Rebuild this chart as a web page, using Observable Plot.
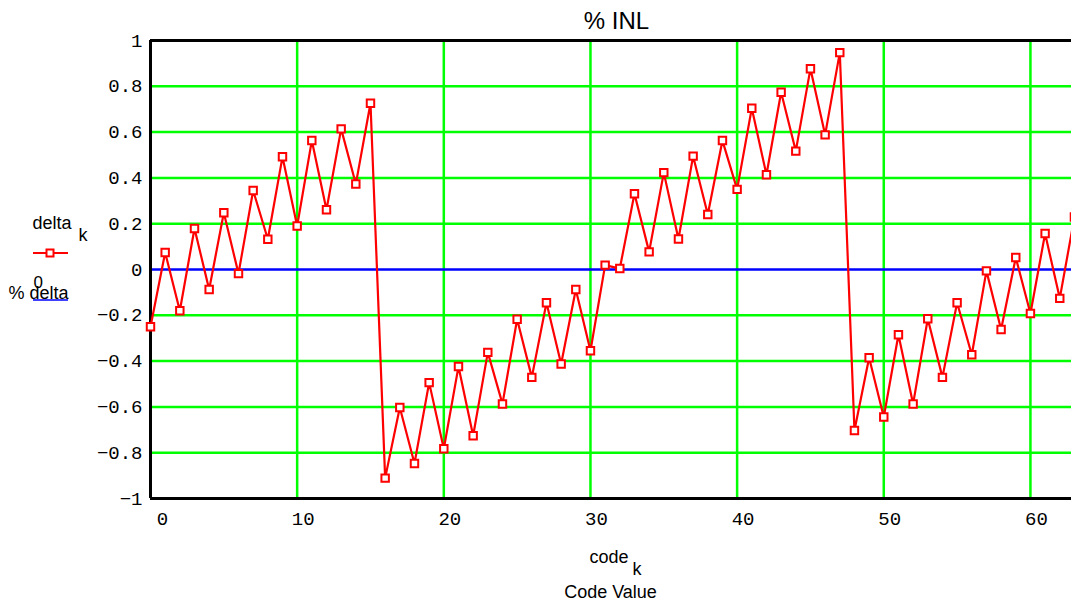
<!DOCTYPE html>
<html>
<head>
<meta charset="utf-8">
<script src="https://cdn.jsdelivr.net/npm/d3@7"></script>
<script src="https://cdn.jsdelivr.net/npm/@observablehq/plot@0.6"></script>
<style>
  html, body { margin: 0; padding: 0; background: white; overflow: hidden; }
  #chart { width: 1071px; height: 606px; }
</style>
</head>
<body>
<div id="chart"></div>
<script>
// code index k
const codes = [0,1,2,3,4,5,6,7,8,9,10,11,12,13,14,15,16,17,18,19,20,21,22,23,24,25,26,27,28,29,30,31,
               32,33,34,35,36,37,38,39,40,41,42,43,44,45,46,47,48,49,50,51,52,53,54,55,56,57,58,59,60,61,62,63];
// % INL (delta_k)
const delta = [-0.25, 0.074, -0.18, 0.179, -0.087, 0.248, -0.018, 0.345, 0.132, 0.492, 0.19, 0.563, 0.261, 0.614, 0.373, 0.726,
               -0.911, -0.603, -0.847, -0.494, -0.783, -0.424, -0.726, -0.362, -0.587, -0.217, -0.471, -0.145, -0.413, -0.087, -0.355, 0.019,
               0.004, 0.331, 0.077, 0.423, 0.133, 0.495, 0.24, 0.563, 0.35, 0.704, 0.414, 0.774, 0.517, 0.877, 0.588, 0.947,
               -0.703, -0.385, -0.644, -0.285, -0.587, -0.215, -0.471, -0.145, -0.372, -0.006, -0.262, 0.052, -0.192, 0.157, -0.126, 0.229];
const xTicks = [0, 10, 20, 30, 40, 50, 60];
const yTicks = [-1, -0.8, -0.6, -0.4, -0.2, 0, 0.2, 0.4, 0.6, 0.8, 1];
const xGrid = [10, 20, 30, 40, 50, 60];
const yGrid = [-0.8, -0.6, -0.4, -0.2, 0.2, 0.4, 0.6, 0.8];
const zeroTrace = [0];
const titleText = ["% INL"];
const xLabel = ["code"], xSub = ["k"], xLabel2 = ["Code Value"];
const legend1 = ["delta"], legend1Sub = ["k"], legend2 = ["0"], yLabel = ["% delta"];

const mono = "'Liberation Mono', 'Courier New', monospace";
const sans = "'Liberation Sans', Arial, sans-serif";
const fmt = d => (d < 0 ? "\u2212" : "") + String(Math.abs(d));

const txt = (data, dx, dy, extra = {}) => Plot.text(data, {
  text: d => d, frameAnchor: "top-left", dx, dy, lineAnchor: "bottom",
  textAnchor: "start", fontFamily: sans, fontSize: 18, fill: "black", ...extra
});

const plot = Plot.plot({
  width: 1071, height: 606,
  marginLeft: 150, marginRight: 0, marginTop: 40, marginBottom: 108,
  x: { domain: [0, 62.8] },
  y: { domain: [-1, 1] },
  style: { background: "white", color: "black", overflow: "hidden" },
  marks: [
    Plot.gridX(xGrid, { stroke: "#00ff00", strokeOpacity: 1, strokeWidth: 2.5 }),
    Plot.gridY(yGrid, { stroke: "#00ff00", strokeOpacity: 1, strokeWidth: 2.5 }),
    Plot.ruleY(zeroTrace, { stroke: "#0000ff", strokeWidth: 2.5 }),
    Plot.ruleY([1], { stroke: "black", strokeWidth: 3 }),
    Plot.ruleY([-1], { stroke: "black", strokeWidth: 3 }),
    Plot.ruleX([0], { stroke: "black", strokeWidth: 3 }),
    Plot.axisY(yTicks, { tickSize: 0, tickPadding: 8, tickFormat: fmt, fontFamily: mono, fontSize: 19, label: null }),
    Plot.axisX(xTicks.slice(0, 1), { tickSize: 0, tickPadding: 13, dx: 12, tickFormat: fmt, fontFamily: mono, fontSize: 19, label: null }),
    Plot.axisX(xTicks.slice(1), { tickSize: 0, tickPadding: 13, dx: 6, tickFormat: fmt, fontFamily: mono, fontSize: 19, label: null }),
    Plot.line(codes, { x: codes, y: delta, stroke: "#ff0000", strokeWidth: 2.2 }),
    Plot.dot(codes, { x: codes, y: delta, symbol: "square", r: 4.2, stroke: "#ff0000", fill: "white", strokeWidth: 2 }),
    txt(titleText, 616 - 150, 28 - 40, { textAnchor: "middle", fontSize: 24 }),
    txt(legend1, 32 - 150, 228 - 40),
    txt(legend1Sub, 78 - 150, 240 - 40),
    txt(legend2, 33 - 150, 287 - 40, { fontSize: 17 }),
    txt(yLabel, 8 - 150, 298 - 40),
    txt(xLabel, 589 - 150, 562 - 40),
    txt(xSub, 632 - 150, 574 - 40),
    txt(xLabel2, 610 - 150, 597 - 40, { textAnchor: "middle" })
  ]
});

// legend swatches
const svg = d3.select(plot);
const g = svg.append("g");
g.append("line").attr("x1", 33).attr("x2", 68).attr("y1", 253).attr("y2", 253)
  .attr("stroke", "#ff0000").attr("stroke-width", 2.2);
g.append("rect").attr("x", 46.5).attr("y", 249.5).attr("width", 7).attr("height", 7)
  .attr("stroke", "#ff0000").attr("stroke-width", 2).attr("fill", "white");
g.append("line").attr("x1", 33).attr("x2", 68).attr("y1", 300).attr("y2", 300)
  .attr("stroke", "#0000ff").attr("stroke-width", 1.5);

document.getElementById("chart").appendChild(plot);
</script>
</body>
</html>
